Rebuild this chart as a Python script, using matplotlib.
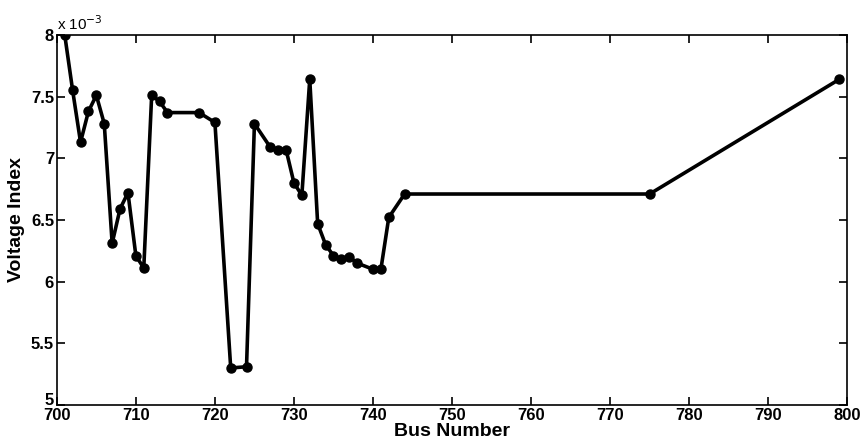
import numpy as np
from matplotlib import pyplot as plt
from matplotlib.transforms import ScaledTranslation

# bus numbers and voltage index (x 10^-3)
bus = [701, 702, 703, 704, 705, 706, 707, 708, 709, 710, 711, 712, 713, 714,
       718, 720, 722, 724, 725, 727, 728, 729, 730, 731, 732, 733, 734, 735,
       736, 737, 738, 740, 741, 742, 744, 775, 799]
vindex = [8.00, 7.55, 7.13, 7.38, 7.51, 7.28, 6.31, 6.59, 6.72, 6.21, 6.11, 7.51,
          7.46, 7.37, 7.37, 7.29, 5.30, 5.31, 7.28, 7.09, 7.07, 7.07, 6.80, 6.70,
          7.64, 6.47, 6.30, 6.21, 6.18, 6.20, 6.15, 6.10, 6.10, 6.52, 6.71, 6.71,
          7.64]

xticks = np.arange(700, 801, 10)
yticks = [5, 5.5, 6, 6.5, 7, 7.5, 8]

FONT = ['Liberation Sans Narrow', 'Liberation Sans', 'DejaVu Sans']

fig = plt.figure(figsize=(8.61, 4.47), dpi=100)
ax = fig.add_axes([0.066, 0.094, 0.918, 0.828])

ax.plot(bus, vindex, color='black', linewidth=2.6, marker='o', markersize=6.5)

ax.set_xlim(700, 800)
ax.set_ylim(5, 8)
ax.set_xticks(xticks)
ax.set_yticks(yticks)
ax.set_yticklabels(['5', '5.5', '6', '6.5', '7', '7.5', '8'])
ax.tick_params(direction='in', top=True, right=True, length=6, width=1.2, pad=2)
for lbl in ax.get_xticklabels() + ax.get_yticklabels():
    lbl.set_family(FONT)
    lbl.set_fontweight('bold')
    lbl.set_fontsize(12)
# lift the bottom "5" a bit so it sits over the 700 label like the original
low = ax.get_yticklabels()[0]
low.set_transform(low.get_transform() + ScaledTranslation(0, 4 / 72, fig.dpi_scale_trans))
for s in ax.spines.values():
    s.set_linewidth(1.2)

ax.set_xlabel('Bus Number', family=FONT, fontsize=14, fontweight='bold', labelpad=0)
ax.set_ylabel('Voltage Index', family=['Liberation Sans', 'DejaVu Sans'], fontsize=14,
              fontweight='bold', labelpad=4)
ax.text(0.0, 1.005, r'x 10$^{-3}$', transform=ax.transAxes, family=FONT,
        fontsize=11, va='bottom', ha='left')

fig.savefig('out.png', dpi=100)
